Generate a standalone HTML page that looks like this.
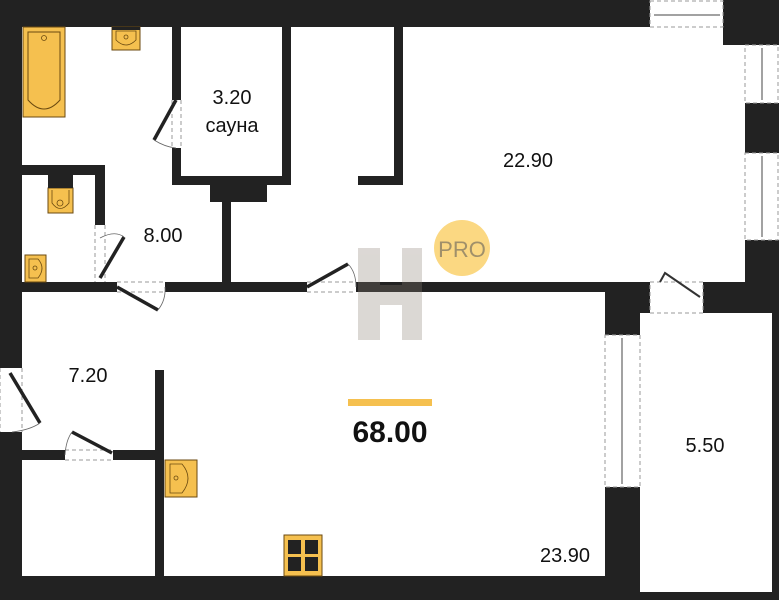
<!DOCTYPE html>
<html><head><meta charset="utf-8"><style>
html,body{margin:0;padding:0;background:#fff}
svg{display:block}
text{font-family:"Liberation Sans",sans-serif;fill:#111}
</style></head><body>
<svg width="779" height="600" viewBox="0 0 779 600" xmlns="http://www.w3.org/2000/svg">
<g fill="#222">
<rect x="0" y="0" width="650" height="27"/>
<rect x="723" y="0" width="56" height="45"/>
<rect x="745" y="0" width="34" height="45"/>
<rect x="745" y="103" width="34" height="50"/>
<rect x="745" y="240" width="34" height="73"/>
<rect x="703" y="282" width="76" height="31"/>
<rect x="0" y="0" width="22" height="368"/>
<rect x="0" y="432" width="22" height="168"/>
<rect x="0" y="576" width="640" height="24"/>
<rect x="605" y="282" width="45" height="31"/>
<rect x="605" y="282" width="35" height="53"/>
<rect x="605" y="487" width="35" height="113"/>
<rect x="772" y="313" width="7" height="287"/>
<rect x="640" y="592" width="139" height="8"/>
<rect x="22" y="282" width="95" height="10"/>
<rect x="165" y="282" width="142" height="10"/>
<rect x="356" y="282" width="249" height="10"/>
<rect x="155" y="370" width="9" height="206"/>
<rect x="22" y="450" width="43" height="10"/>
<rect x="113" y="450" width="51" height="10"/>
<rect x="22" y="165" width="83" height="10"/>
<rect x="95" y="165" width="10" height="60"/>
<rect x="172" y="27" width="9" height="73"/>
<rect x="172" y="148" width="9" height="37"/>
<rect x="172" y="176" width="119" height="9"/>
<rect x="282" y="27" width="9" height="158"/>
<rect x="210" y="185" width="57" height="17"/>
<rect x="222" y="202" width="9" height="85"/>
<rect x="394" y="27" width="9" height="158"/>
<rect x="358" y="176" width="45" height="9"/>
</g>
<g fill="none" stroke="#999" stroke-dasharray="4,3" stroke-width="1">
<rect x="650" y="1" width="73" height="26"/>
<rect x="745" y="45" width="33" height="58"/>
<rect x="745" y="153" width="33" height="87"/>
<rect x="605" y="335" width="35" height="152"/>
<rect x="650" y="282" width="53" height="31"/>
<line x1="0" y1="368" x2="0" y2="432"/><line x1="22" y1="368" x2="22" y2="432"/>
<line x1="117" y1="282" x2="165" y2="282"/><line x1="117" y1="292" x2="165" y2="292"/>
<line x1="307" y1="282" x2="356" y2="282"/><line x1="307" y1="292" x2="356" y2="292"/>
<line x1="65" y1="450" x2="113" y2="450"/><line x1="65" y1="460" x2="113" y2="460"/>
<line x1="95" y1="225" x2="95" y2="282"/><line x1="105" y1="225" x2="105" y2="282"/>
<line x1="172" y1="100" x2="172" y2="148"/><line x1="181" y1="100" x2="181" y2="148"/>
</g>
<g stroke="#444" stroke-width="1">
<line x1="654" y1="15" x2="720" y2="15"/>
<line x1="762" y1="48" x2="762" y2="100"/>
<line x1="762" y1="156" x2="762" y2="237"/>
<line x1="622" y1="338" x2="622" y2="484"/>
</g>
<g stroke="#222" stroke-width="3.5" fill="none">
<line x1="117" y1="287" x2="158" y2="310"/>
<line x1="307" y1="287" x2="348" y2="264"/>
<line x1="10" y1="373" x2="40" y2="423"/>
<line x1="112" y1="453" x2="72" y2="432"/>
<line x1="100" y1="278" x2="124" y2="237"/>
<line x1="176" y1="100" x2="154" y2="140"/>
</g>
<g stroke="#666" stroke-width="0.8" fill="none">
<path d="M158 310 Q166 300 165 287"/>
<path d="M348 264 Q356 272 356 287"/>
<path d="M40 423 Q30 430 12 432"/>
<path d="M72 432 Q66 440 65 455"/>
<path d="M100 238 Q115 230 124 237"/>
<path d="M154 140 Q165 147 176 148"/>
<path d="M660 282 L665 273 L700 297" stroke="#333" stroke-width="2"/>
</g>
<g fill="#f5c04f" stroke="#6b4a10" stroke-width="1">
<rect x="23" y="27" width="42" height="90"/>
<path d="M28 32 H60 V100 Q44 118 28 100 Z" fill="none"/>
<rect x="112" y="27" width="28" height="23"/>
<rect x="48" y="188" width="25" height="25"/>
<rect x="25" y="255" width="21" height="27"/>
<rect x="165" y="460" width="32" height="37"/>
<rect x="284" y="535" width="38" height="41"/>
</g>
<g fill="none" stroke="#6b4a10" stroke-width="0.8">
<path d="M116 31 H136 V40 Q126 50 116 40 Z"/>
<circle cx="126" cy="37" r="2"/>
<circle cx="44" cy="38" r="2.5"/>
<path d="M52 190 V203 Q60 214 69 203 V190"/>
<circle cx="60" cy="203" r="3"/>
<path d="M29 259 H38 Q46 268 38 278 H29 Z"/>
<circle cx="35" cy="268" r="2"/>
<path d="M170 464 H182 Q194 478 182 493 H170 Z"/>
<circle cx="176" cy="478" r="2"/>
</g>
<rect x="48" y="175" width="25" height="13" fill="#222"/>
<rect x="112" y="27" width="28" height="3" fill="#222"/>
<g fill="#222">
<rect x="288" y="540" width="13" height="14"/><rect x="305" y="540" width="13" height="14"/>
<rect x="288" y="557" width="13" height="14"/><rect x="305" y="557" width="13" height="14"/>
</g>
<g opacity="0.3" fill="#8a7f75">
<rect x="358" y="248" width="22" height="92"/>
<rect x="402" y="248" width="20" height="92"/>
<rect x="358" y="285" width="64" height="20"/>
</g>
<circle cx="462" cy="248" r="28" fill="#fbd882"/>
<text x="462" y="257" font-size="22" text-anchor="middle" style="fill:#a0906a">PRO</text>
<g font-size="20" text-anchor="middle">
<text x="232" y="104">3.20</text>
<text x="232" y="132">сауна</text>
<text x="163" y="242">8.00</text>
<text x="528" y="167">22.90</text>
<text x="88" y="382">7.20</text>
<text x="705" y="452">5.50</text>
<text x="565" y="562">23.90</text>
</g>
<rect x="348" y="399" width="84" height="7" fill="#f5c04f"/>
<text x="390" y="442" font-size="30" font-weight="bold" text-anchor="middle">68.00</text>
</svg>
</body></html>
